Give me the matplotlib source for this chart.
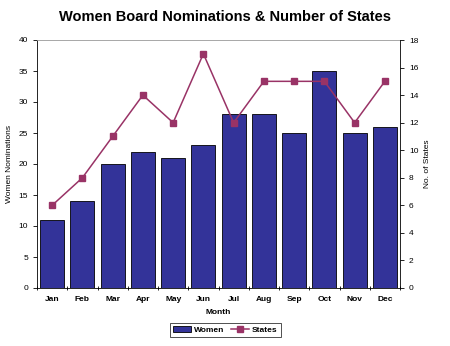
import matplotlib.pyplot as plt
import numpy as np

meses = ["Jan", "Feb", "Mar", "Apr", "May", "Jun", "Jul", "Aug", "Sep", "Oct", "Nov", "Dec"]
mujeres = [11, 14, 20, 22, 21, 23, 28, 28, 25, 35, 25, 26]
estados = [6, 8, 11, 14, 12, 17, 12, 15, 15, 15, 12, 15]

plt.rcParams["font.family"] = ["Liberation Sans", "DejaVu Sans"]

fig = plt.figure(figsize=(4.5, 3.46), dpi=100)
ax = fig.add_axes([37 / 450, 1 - 288 / 346, 363 / 450, 248 / 346])

x = np.arange(len(meses))
barras = ax.bar(x, mujeres, width=0.8, color="#333399", edgecolor="black", linewidth=0.6, label="Women")
ax.set_xlim(-0.5, len(meses) - 0.5)
ax.set_ylim(0, 40)
ax.set_yticks(range(0, 41, 5))
ax.set_xticks(x)
ax.set_xticklabels(meses, fontsize=6, fontweight="bold")
ax.set_xticks(np.arange(-0.5, len(meses), 1), minor=True)
ax.tick_params(axis="x", which="major", length=0, pad=6)
ax.tick_params(axis="x", which="minor", length=3, direction="inout", width=0.6)
ax.tick_params(axis="y", labelsize=6, length=3, width=0.6)
ax.set_ylabel("Women Nominations", fontsize=6)
ax.set_xlabel("Month", fontsize=6, fontweight="bold", labelpad=4)
ax.spines["top"].set_color("#999999")
ax.spines["right"].set_visible(False)
for s in ["left", "bottom", "top"]:
    ax.spines[s].set_linewidth(0.6)

ax2 = ax.twinx()
linea, = ax2.plot(x, estados, color="#993366", marker="s", markersize=5, linewidth=1.1, label="States")
ax2.set_ylim(0, 18)
ax2.set_yticks(range(0, 19, 2))
ax2.tick_params(axis="y", labelsize=6, length=3, width=0.6)
ax2.set_ylabel("No. of States", fontsize=6)
ax2.spines["top"].set_visible(False)
ax2.spines["left"].set_visible(False)
ax2.spines["bottom"].set_visible(False)
ax2.spines["right"].set_linewidth(0.6)

fig.text(0.5, 1 - 17 / 346, "Women Board Nominations & Number of States", ha="center", va="center",
         fontsize=10.5, fontweight="bold")

leg = fig.legend([barras, linea], ["Women", "States"], loc="center", bbox_to_anchor=(0.5, 1 - 330 / 346),
                 ncol=2, prop={"size": 6, "weight": "bold"}, frameon=True, fancybox=False,
                 edgecolor="black", handlelength=2.2, columnspacing=0.8, handletextpad=0.3, borderpad=0.4)
leg.get_frame().set_linewidth(0.6)

fig.savefig("out.png", dpi=100)
